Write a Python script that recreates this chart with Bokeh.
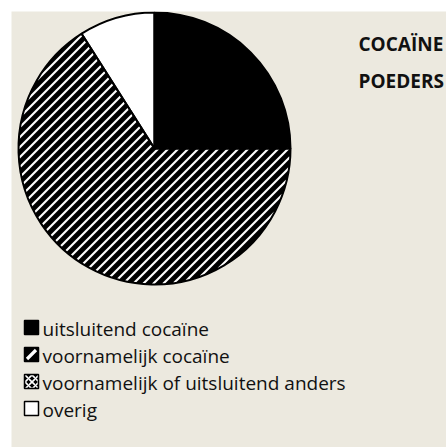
import numpy as np
from bokeh.plotting import figure
from bokeh.models import Range1d, ColumnDataSource
from bokeh.core.properties import value
from bokeh.embed import file_html
from bokeh.resources import INLINE

# data
categories = ["uitsluitend cocaïne", "voornamelijk cocaïne",
              "voornamelijk of uitsluitend anders", "overig"]
shares = [25, 66, 0, 9]
fills = ["black", "black", "black", "white"]
patterns = ["solid", "stripe", "cross", "empty"]
title_lines = ["COCAÏNE", "POEDERS"]

BG = "#ECE9DF"
W, H = 446, 447

p = figure(width=W, height=H, output_backend="svg", toolbar_location=None,
           x_range=Range1d(11, 446), y_range=Range1d(0, 436),
           min_border_left=11, min_border_top=11, min_border_right=0, min_border_bottom=0,
           background_fill_color=BG, border_fill_color="white", outline_line_color=None)
p.axis.visible = False
p.grid.visible = False

# pie (coords: x = page px, y = 447 - page px, 1 unit = 1 px)
cx, cy, r = 154, 299, 136
starts, ends, wf, wpat = [], [], [], []
cum = 0
total = sum(shares)
for s, f, h in zip(shares, fills, patterns):
    a0 = 90 - cum / total * 360
    cum += s
    a1 = 90 - cum / total * 360
    if s > 0:
        starts.append(a0); ends.append(a1)
        wf.append(f); wpat.append(h)
src = ColumnDataSource(dict(x=[cx] * len(starts), y=[cy] * len(starts),
                            s=starts, e=ends, f=wf))
wedge_kw = dict(x="x", y="y", radius=r, start_angle="s", end_angle="e",
                start_angle_units="deg", end_angle_units="deg", direction="clock",
                source=src)
p.wedge(fill_color="f", line_color=None, **wedge_kw)

# 45-degree white stripes clipped to the striped slice
xs0, ys0, xs1, ys1 = [], [], [], []
for a0, a1, pat in zip(starts, ends, wpat):
    if pat != "stripe":
        continue
    span = a0 - a1
    tx = np.arange(cx - r, cx + r + 0.25, 0.25)
    for c in np.arange(cy - cx - 1.5 * r, cy - cx + 1.5 * r, 10.0):
        ty = tx + c
        dx, dy = tx - cx, ty - cy
        ang = np.degrees(np.arctan2(dy, dx))
        off = (a0 - ang) % 360
        inside = (dx * dx + dy * dy <= r * r) & (off <= span)
        if not inside.any():
            continue
        idx = np.flatnonzero(inside)
        breaks = np.flatnonzero(np.diff(idx) > 1)
        run_starts = np.r_[idx[0], idx[breaks + 1]]
        run_ends = np.r_[idx[breaks], idx[-1]]
        for i0, i1 in zip(run_starts, run_ends):
            if i1 > i0:
                xs0.append(tx[i0]); ys0.append(ty[i0])
                xs1.append(tx[i1]); ys1.append(ty[i1])
p.segment(x0=xs0, y0=ys0, x1=xs1, y1=ys1, line_color="white", line_width=2.1)

# outlines on top
p.wedge(fill_alpha=0, line_color="black", line_width=2, **wedge_kw)

# titles
p.text(x=[358, 358], y=[447 - 43, 447 - 80], text=title_lines,
       text_font=value("Open Sans"), text_font_size="19px", text_font_style="bold",
       text_color="#111111", text_baseline="middle")

# legend
lx = 31
ly = [447 - 327, 447 - 354, 447 - 381, 447 - 408]
lh = ["x" if pt == "cross" else "blank" for pt in patterns]
p.scatter(x=[lx] * 4, y=ly, marker="square", size=14, fill_color=fills,
          hatch_pattern=lh, hatch_color="white", hatch_scale=7, hatch_weight=1.6,
          line_color="black", line_width=1.5)
sy = [y for y, pt in zip(ly, patterns) if pt == "stripe"]
p.segment(x0=[lx - 4.5] * len(sy), y0=[y - 4.5 for y in sy],
          x1=[lx + 4.5] * len(sy), y1=[y + 4.5 for y in sy],
          line_color="white", line_width=3.2)
p.text(x=[42] * 4, y=[v - 1 for v in ly], text=categories, text_font=value("Open Sans"),
       text_font_size="19px", text_color="#111111", text_baseline="middle")

open("out.html", "w").write(file_html(p, INLINE))
